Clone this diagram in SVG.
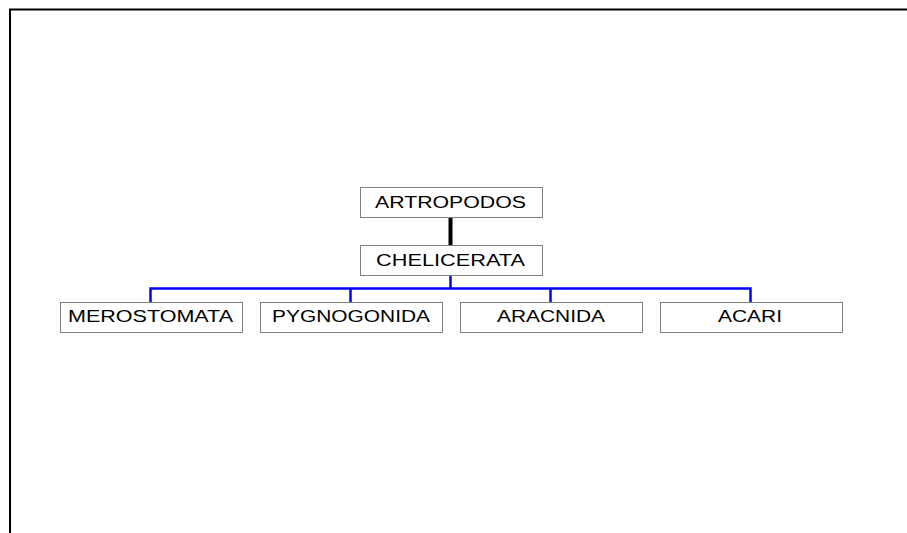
<svg xmlns="http://www.w3.org/2000/svg" width="907" height="533" viewBox="0 0 907 533">
<style>
.box{fill:#fff;stroke:#7f7f7f;stroke-width:1}
.t{font-family:"Liberation Sans",Arial,sans-serif;font-size:16px;fill:#000;text-anchor:middle}
.blue{stroke:#0000ff;stroke-width:2.5;fill:none}
</style>
<rect width="907" height="533" fill="#fff"/>
<path d="M10 533 V9.5 H907" fill="none" stroke="#000" stroke-width="2"/>
<g id="connectors">
<line x1="450.5" y1="217" x2="450.5" y2="245" stroke="#000" stroke-width="4"/>
<path class="blue" d="M450.5 275 V288.5 M150.5 302 V288.5 H750.5 V302 M350.5 288.5 V302 M550.5 288.5 V302"/>
</g>
<g id="artropodos"><rect class="box" x="360.5" y="187.5" width="182" height="30"/><text class="t" x="450.5" y="207.5" textLength="151" lengthAdjust="spacingAndGlyphs">ARTROPODOS</text></g>
<g id="chelicerata"><rect class="box" x="360.5" y="245.5" width="182" height="30"/><text class="t" x="450.5" y="265.5" textLength="149" lengthAdjust="spacingAndGlyphs">CHELICERATA</text></g>
<g id="merostomata"><rect class="box" x="60.5" y="302.5" width="182" height="30"/><text class="t" x="150.5" y="322" textLength="165" lengthAdjust="spacingAndGlyphs">MEROSTOMATA</text></g>
<g id="pygnogonida"><rect class="box" x="260.5" y="302.5" width="182" height="30"/><text class="t" x="351" y="322" textLength="158" lengthAdjust="spacingAndGlyphs">PYGNOGONIDA</text></g>
<g id="aracnida"><rect class="box" x="460.5" y="302.5" width="182" height="30"/><text class="t" x="551" y="322" textLength="108" lengthAdjust="spacingAndGlyphs">ARACNIDA</text></g>
<g id="acari"><rect class="box" x="660.5" y="302.5" width="182" height="30"/><text class="t" x="750" y="322" textLength="64" lengthAdjust="spacingAndGlyphs">ACARI</text></g>
</svg>
